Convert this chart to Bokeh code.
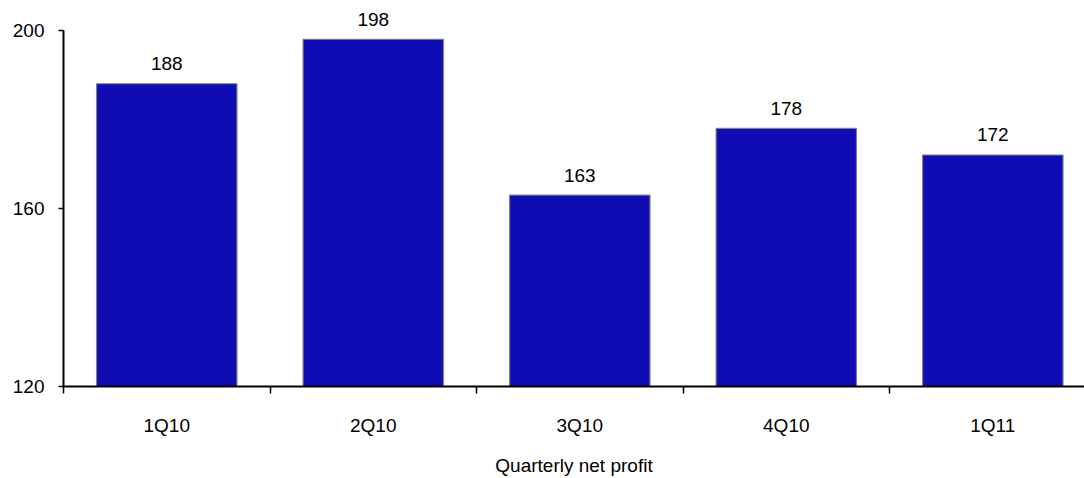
from bokeh.plotting import figure
from bokeh.models import FixedTicker, Range1d, ColumnDataSource
from bokeh.core.properties import value
from bokeh.embed import file_html
from bokeh.resources import INLINE

quarters = ["1Q10", "2Q10", "3Q10", "4Q10", "1Q11"]
profit = [188, 198, 163, 178, 172]
y_ticks = [120, 160, 200]

FONT = "Liberation Sans"
FS = "19px"
xs = [i + 0.5 for i in range(len(quarters))]
src = ColumnDataSource(dict(x=xs, top=profit, lab=[str(v) for v in profit]))

p = figure(width=1084, height=478, output_backend="svg", toolbar_location=None,
           x_range=Range1d(0, 4.944), y_range=Range1d(120, 200 + 30 * 80 / 358),
           min_border_left=63, min_border_right=0, min_border_top=0, min_border_bottom=90)
p.outline_line_color = None
p.grid.visible = False
p.background_fill_color = "white"
p.border_fill_color = "white"

p.vbar(x="x", top="top", bottom=120, width=0.68, source=src,
       fill_color="#100CB4", line_color="#808080", line_width=1.2)
p.text(x="x", y="top", text="lab", source=src, text_align="center",
       text_baseline="alphabetic", y_offset=-20, text_font=value(FONT),
       text_font_size=FS, text_color="black")

ya = p.yaxis[0]
ya.ticker = FixedTicker(ticks=y_ticks, minor_ticks=[])
ya.bounds = (120, 200)
ya.major_tick_in = 0
ya.major_tick_out = 5
ya.major_label_standoff = 14
ya.axis_line_width = 2
ya.major_tick_line_width = 1.5
ya.major_label_text_font = FONT
ya.major_label_text_font_size = FS
ya.major_label_text_color = "black"

xa = p.xaxis[0]
xa.ticker = FixedTicker(ticks=xs, minor_ticks=[float(i) for i in range(len(quarters) + 1)])
xa.major_tick_out = 0
xa.major_tick_in = 0
xa.minor_tick_out = 7
xa.minor_tick_in = 0
xa.minor_tick_line_color = "black"
xa.minor_tick_line_width = 1.5
xa.axis_line_width = 2
xa.major_label_overrides = {x: q for x, q in zip(xs, quarters)}
xa.major_label_standoff = 21
xa.major_label_text_font = FONT
xa.major_label_text_font_size = FS
xa.major_label_text_color = "black"
xa.axis_label = "Quarterly net profit"
xa.axis_label_text_font = FONT
xa.axis_label_text_font_size = FS
xa.axis_label_text_font_style = "normal"
xa.axis_label_text_color = "black"
xa.axis_label_standoff = 16

open("out.html", "w").write(file_html(p, INLINE))
